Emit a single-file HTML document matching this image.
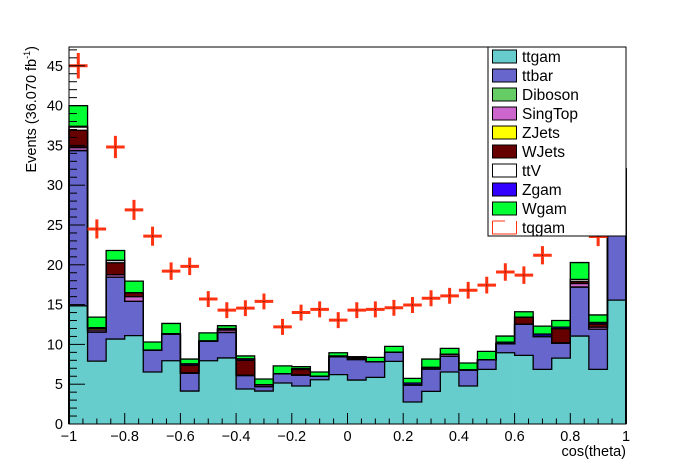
<!DOCTYPE html>
<html><head><meta charset="utf-8"><style>
body{margin:0;background:#fff;}
svg{display:block;font-family:"Liberation Sans",Arial,sans-serif;}
</style></head><body>
<svg id="chart" width="696" height="472" viewBox="0 0 696 472"></svg>
<script>
const binCount = 30;
const xMin = -1, xMax = 1;
const ttgam   = [14.85,7.9,10.67,11.1,6.53,7.95,4.14,7.95,8.3,4.4,4.14,5.15,4.77,5.56,6.2,5.52,5.86,7.87,2.76,4.1,6.53,4.77,6.86,8.95,8.62,6.86,8.28,11.05,6.86,15.56];
const ttbar   = [19.5,3.65,7.78,4.3,2.72,3.35,2.26,2.45,3.2,1.7,0.56,1.15,1.38,0.44,2.25,2.58,1.94,1.13,2.14,2.8,1.97,2.01,1.22,1.13,3.93,4.14,1.89,6.15,5.06,16.5];
const diboson = [0,0,0,0,0,0,0,0,0,0,0,0,0,0,0,0,0,0,0,0,0,0,0,0,0,0,0,0,0,0];
const singtop = [0.35,0.25,0.3,0.6,0,0,0,0,0.3,0,0.25,0,0,0,0,0,0,0,0,0.2,0.25,0,0,0,0,0,0,0.45,0.25,0];
const zjets   = [0.1,0.2,0,0,0,0,0,0,0.05,0,0,0,0,0,0,0,0,0,0,0,0,0,0,0,0,0,0,0,0,0];
const wjets   = [2.1,0,1.5,0.5,0,0,0.96,0,0,1.9,0,0,0.7,0,0,0.2,0,0,0,0,0,0,0,0,0.85,0,1.8,0.25,0.4,0];
const ttv     = [0.4,0.1,0.3,0,0,0,0,0,0.1,0,0,0,0,0,0,0,0,0,0,0,0,0,0,0,0,0,0,0.25,0,0];
const zgam    = [0.1,0,0,0,0.05,0.05,0.2,0.05,0.05,0.2,0,0,0.1,0,0.1,0.15,0,0,0.25,0,0,0,0,0.2,0,0.3,0.2,0,0.2,0];
const wgam    = [2.6,1.33,1.25,1.45,1.0,1.28,0.6,1.0,0.35,0.35,0.7,1.0,0.25,0.53,0.4,0,0.57,0.75,0.58,1.06,0.75,0.88,1.04,0.77,0.7,1.0,0.83,2.13,0.93,0];
const dataVals = [45.0,24.5,34.8,26.9,23.6,19.2,19.8,15.7,14.3,14.55,15.4,12.2,14.0,14.4,13.05,14.3,14.4,14.6,14.95,15.8,16.1,16.8,17.45,19.1,18.7,21.2,25.0,27.0,23.55,30.0];
const dataErr  = [1.6,1.2,1.4,1.25,1.2,1.1,1.1,1.0,1.0,1.0,1.0,1.0,1.0,1.0,1.0,1.0,1.0,1.0,1.0,1.0,1.0,1.05,1.05,1.1,1.1,1.15,1.2,1.2,1.2,1.3];
const xTicks = [-1,-0.8,-0.6,-0.4,-0.2,0,0.2,0.4,0.6,0.8,1];
const xTickLabels = ["\u22121","\u22120.8","\u22120.6","\u22120.4","\u22120.2","0","0.2","0.4","0.6","0.8","1"];
const yTicks = [0,5,10,15,20,25,30,35,40,45];
const legendNames = ["ttgam","ttbar","Diboson","SingTop","ZJets","WJets","ttV","Zgam","Wgam","tqgam"];

const L=69,R=626,T=47,B=424, yMax=47.36;
const NS="http://www.w3.org/2000/svg";
const svg=document.getElementById('chart');
const X=v=>L+(v-xMin)/(xMax-xMin)*(R-L);
const Y=v=>B-v/yMax*(B-T);
function el(t,a,p){const e=document.createElementNS(NS,t);for(const k in a)e.setAttribute(k,a[k]);(p||svg).appendChild(e);return e;}

const series=[ttgam,ttbar,diboson,singtop,zjets,wjets,ttv,zgam,wgam];
const names=["ttgam","ttbar","diboson","singtop","zjets","wjets","ttv","zgam","wgam"];
const colors=["#66cccc","#6666cc","#66cc66","#cc66cc","#ffff00","#660000","#ffffff","#3300ff","#00ff33"];
const bw=(xMax-xMin)/binCount;
const gStack=el('g',{});


const cum=new Array(binCount).fill(0);
const tops=[];
series.forEach((s,si)=>{
  const g=el('g',{},gStack);
  
  
  for(let i=0;i<binCount;i++){
    const lo=cum[i],hi=cum[i]+s[i];
    cum[i]=hi;
    if(s[i]<=0)continue;
    const x0=X(xMin+i*bw),x1=X(xMin+(i+1)*bw);
    const r=el('rect',{x:x0,y:Y(hi),width:x1-x0+0.3,height:Y(lo)-Y(hi),fill:colors[si]},g);
    
    
  }
  tops.push(cum.slice());
});
// step outlines for each stacked level
tops.forEach((lv,si)=>{
  let d='M'+X(xMin)+','+Y(0);
  for(let i=0;i<binCount;i++){const x0=X(xMin+i*bw),x1=X(xMin+(i+1)*bw);d+='L'+x0+','+Y(lv[i])+'L'+x1+','+Y(lv[i]);}
  d+='L'+X(xMax)+','+Y(0);
  const p=el('path',{d:d,fill:'none',stroke:'#000','stroke-width':1.3});
  
  
});
// data crosses
const gD=el('g',{});


for(let i=0;i<binCount;i++){
  const xc=X(xMin+(i+0.5)*bw),x0=X(xMin+i*bw),x1=X(xMin+(i+1)*bw),yc=Y(dataVals[i]);
  const p=el('path',{d:`M${x0},${yc}H${x1}M${xc},${Y(dataVals[i]+dataErr[i])}V${Y(dataVals[i]-dataErr[i])}`,stroke:'#ff3311','stroke-width':3,fill:'none'},gD);
  
  
  el('rect',{x:xc-0.5,y:yc-0.5,width:1,height:1,fill:'#000'},gD);
}
// axes frame
const fr=el('rect',{x:L,y:T,width:R-L,height:B-T,fill:'none',stroke:'#000','stroke-width':1});


// x ticks
const gx=el('g',{});


for(let v=xMin;v<=xMax+1e-9;v+=0.05){
  const major=Math.abs(Math.round(v*5)-v*5)<1e-6;
  el('line',{x1:X(v),x2:X(v),y1:B,y2:B-(major?11:5.5),stroke:'#000'},gx);
}
xTicks.forEach((v,i)=>{
  const t=el('text',{x:X(v),y:441,'text-anchor':'middle','font-size':14.5},gx);t.textContent=xTickLabels[i];
  
  
});
const xt=el('text',{x:626,y:456,'text-anchor':'end','font-size':14.5});xt.textContent='cos(theta)';


// y ticks
const gy=el('g',{});


for(let v=0;v<=47;v+=1){
  const major=v%5===0;
  el('line',{x1:L,x2:L+(major?16:8),y1:Y(v),y2:Y(v),stroke:'#000'},gy);
}
yTicks.forEach(v=>{
  const t=el('text',{x:63,y:Y(v)+5,'text-anchor':'end','font-size':14.5},gy);t.textContent=String(v);
  
  
});
const yt=el('text',{x:0,y:0,'text-anchor':'end','font-size':14.5,transform:'translate(36,46) rotate(-90)'});
yt.innerHTML='Events (36.070 fb<tspan font-size="9" dy="-6">-1</tspan><tspan dy="6">)</tspan>';


// legend
const lg=el('g',{});


el('rect',{x:488,y:47,width:138,height:189,fill:'#fff',stroke:'#000'},lg);
legendNames.forEach((n,i)=>{
  const e=el('g',{},lg);
  
  
  const cy=56.5+i*19;
  if(i<9) el('rect',{x:492.5,y:cy-6.5,width:24,height:13,fill:colors[i],stroke:'#000'},e);
  else el('path',{d:`M492.5,${cy-6.5}V${cy+6.5}H516.5M516.5,${cy-6.5}V${cy+6.5}M492.5,${cy-6.5}H505`,stroke:'#ff3311',fill:'none'},e);
  const t=el('text',{x:522,y:cy+5.5,'font-size':15.5},e);t.textContent=n;
});
</script>
</body></html>
